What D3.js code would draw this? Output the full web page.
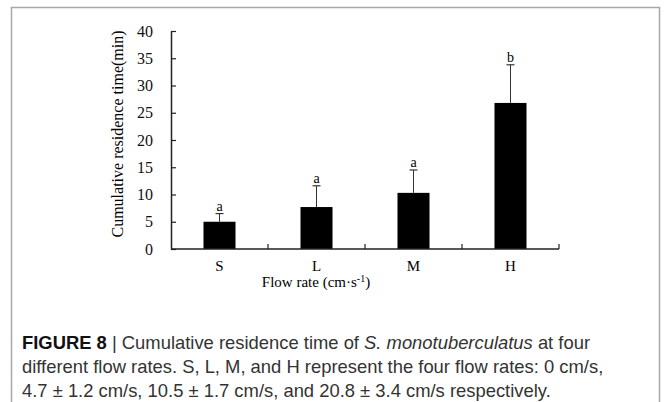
<!DOCTYPE html>
<html>
<head>
<meta charset="utf-8">
<script src="https://cdn.jsdelivr.net/npm/d3@7"></script>
<style>
  body { margin: 0; background: #fff; }
  svg { display: block; }
</style>
</head>
<body>
<svg id="chart"></svg>
<script>
// ----- data -----
var categories = ["S", "L", "M", "H"];
var means = [5.0, 7.7, 10.3, 26.8];
var errors = [1.5, 3.9, 4.2, 7.0];
var letters = ["a", "a", "a", "b"];
var yTicks = [0, 5, 10, 15, 20, 25, 30, 35, 40];

var W = 664, H = 402;
var margin = {top: 31, left: 171, right: 105, bottom: 153};
var width = W - margin.left - margin.right,
    height = H - margin.top - margin.bottom;

var svg = d3.select("#chart").attr("width", W).attr("height", H);

// frame around the figure (open at the bottom)
svg.append("path")
  .attr("d", "M11.5," + H + "V7.5H659.5V" + H)
  .style("fill", "none")
  .style("stroke", "#a8a8a8")
  .style("stroke-width", 1.5);

var g = svg.append("g")
  .attr("transform", "translate(" + margin.left + "," + margin.top + ")");

var x = d3.scaleBand().domain(categories).range([0, width]).paddingInner(0).paddingOuter(0);
var y = d3.scaleLinear().domain([0, 40]).range([height, 0]);
var barW = x.bandwidth() * 0.33;
var serif = "'Liberation Serif', 'Times New Roman', serif";

// bars
g.selectAll("rect.bar")
  .data(categories)
  .enter().append("rect")
  .attr("class", "bar")
  .attr("x", function(d) { return x(d) + x.bandwidth() / 2 - barW / 2; })
  .attr("y", function(d, i) { return y(means[i]); })
  .attr("width", barW)
  .attr("height", function(d, i) { return height - y(means[i]); })
  .style("fill", "#000");

// error bars (upper only)
var eb = g.selectAll("g.err")
  .data(categories)
  .enter().append("g")
  .attr("class", "err")
  .attr("transform", function(d) { return "translate(" + (x(d) + x.bandwidth() / 2) + ",0)"; });
eb.append("line")
  .attr("y1", function(d, i) { return y(means[i]); })
  .attr("y2", function(d, i) { return y(means[i] + errors[i]); })
  .style("stroke", "#333").style("stroke-width", 1);
eb.append("line")
  .attr("x1", -4).attr("x2", 4)
  .attr("y1", function(d, i) { return y(means[i] + errors[i]); })
  .attr("y2", function(d, i) { return y(means[i] + errors[i]); })
  .style("stroke", "#333").style("stroke-width", 1.2);
eb.append("text")
  .attr("y", function(d, i) { return y(means[i] + errors[i]) - 3; })
  .attr("text-anchor", "middle")
  .style("font-family", serif)
  .style("font-size", "14px")
  .text(function(d, i) { return letters[i]; });

// y axis
var yAxis = g.append("g")
  .call(d3.axisLeft(y).tickValues(yTicks).tickSizeInner(-5).tickSizeOuter(0).tickPadding(18));
yAxis.select(".domain").style("stroke", "#222").style("stroke-width", 1.5);
yAxis.selectAll(".tick line").style("stroke", "#222").style("stroke-width", 1.2);
yAxis.selectAll("text").style("font-family", serif).style("font-size", "16px").style("fill", "#111");

// x axis: ticks between categories, pointing up
var bounds = categories.map(function(d) { return x(d) + x.bandwidth(); });
var xAxis = g.append("g").attr("transform", "translate(0," + height + ")");
xAxis.append("line")
  .attr("x1", 0).attr("x2", width)
  .style("stroke", "#222").style("stroke-width", 1.5);
xAxis.selectAll("line.tk")
  .data(bounds)
  .enter().append("line")
  .attr("class", "tk")
  .attr("x1", function(d) { return d; }).attr("x2", function(d) { return d; })
  .attr("y1", 0).attr("y2", -5)
  .style("stroke", "#222").style("stroke-width", 1.2);
xAxis.selectAll("text.cat")
  .data(categories)
  .enter().append("text")
  .attr("class", "cat")
  .attr("x", function(d) { return x(d) + x.bandwidth() / 2; })
  .attr("y", 22)
  .attr("text-anchor", "middle")
  .style("font-family", serif)
  .style("font-size", "15px")
  .text(function(d) { return d; });

// axis titles
var xt = svg.append("text")
  .attr("x", 316).attr("y", 287)
  .attr("text-anchor", "middle")
  .style("font-family", serif)
  .style("font-size", "15px");
xt.append("tspan").text("Flow rate (cm·s");
xt.append("tspan").attr("dy", -5).style("font-size", "10px").text("-1");
xt.append("tspan").attr("dy", 5).text(")");

svg.append("text")
  .attr("transform", "translate(123,134) rotate(-90)")
  .attr("text-anchor", "middle")
  .style("font-family", serif)
  .style("font-size", "16px")
  .text("Cumulative residence time(min)");

// caption
var sans = "'Liberation Sans', Arial, sans-serif";
var cap = svg.append("g").style("font-family", sans).style("font-size", "18.4px").style("fill", "#333");
var l1 = cap.append("text").attr("x", 22).attr("y", 349);
l1.append("tspan").style("font-weight", "bold").style("fill", "#111").text("FIGURE 8 ");
l1.append("tspan").text("| Cumulative residence time of ");
l1.append("tspan").style("font-style", "italic").text("S. monotuberculatus");
l1.append("tspan").text(" at four");
cap.append("text").attr("x", 22).attr("y", 373)
  .text("different flow rates. S, L, M, and H represent the four flow rates: 0 cm/s,");
cap.append("text").attr("x", 22).attr("y", 397)
  .text("4.7 ± 1.2 cm/s, 10.5 ± 1.7 cm/s, and 20.8 ± 3.4 cm/s respectively.");
</script>
</body>
</html>
